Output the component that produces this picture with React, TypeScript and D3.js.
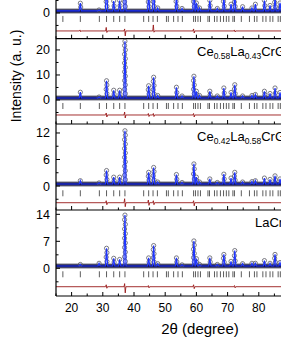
import React from 'react';
import * as d3 from 'd3';

// peak positions (2θ, deg) shared by all four patterns
const peakPos = [22.8, 28.8, 31.2, 33.5, 35.4, 37.1, 44.7, 46.3, 47.6, 53.6, 55.4, 59.2, 60.0, 61.0, 64.3, 66.7, 68.8, 71.1, 72.3, 74.8, 77.8, 78.9, 81.8, 83.6, 85.2, 86.8];

// observed peak tops (a. u.) per pattern, top to bottom
const topsCe = [3.9, 1.2, 12, 4.8, 5, 30, 8, 12, 2, 6.5, 1.8, 12, 4, 2, 5, 1.8, 6.5, 3.5, 8, 2.5, 2, 3.5, 5, 3, 6, 4];
const topsCe58 = [3.1, 1.2, 7.7, 3.9, 3.9, 23.5, 5.7, 9.1, 1.8, 5.1, 1.6, 9.5, 3.5, 1.8, 3.5, 1.6, 4.8, 3.0, 6.1, 1.6, 1.8, 2.2, 3.5, 2.6, 4.8, 3.0];
const topsCe42 = [1.2, 0.7, 3.5, 2.0, 2.0, 12.5, 3.1, 4.2, 0.9, 2.6, 0.8, 5.0, 2.0, 0.9, 1.6, 0.8, 2.7, 1.8, 3.1, 0.9, 1.0, 1.2, 1.8, 1.5, 2.3, 1.6];
const topsLa = [1.0, 1.3, 5.2, 2.6, 2.3, 13.8, 2.7, 5.9, 1.2, 2.7, 0.9, 7.1, 2.5, 1.0, 2.7, 1.0, 3.6, 1.8, 4.6, 1.2, 1.3, 1.3, 2.0, 1.3, 3.6, 1.5];

// Bragg reflection positions
const braggPos = [17.2, 22.8, 28.9, 31.2, 33.5, 35.4, 37.1, 43.1, 44.7, 46.1, 47.5, 50.4, 51.0, 52.7, 54.1, 55.5, 59.1, 59.7, 60.5, 61.3, 63.7, 64.2, 65.8, 66.6, 67.7, 68.7, 69.6, 70.4, 71.7, 72.2, 74.4, 77.0, 78.6, 79.4, 81.3, 82.3, 83.6, 84.5, 86.2, 86.9];

// difference curve spikes: [2θ, up, down]
const diffCe = [[22.8, 0.4, 0.3], [31.2, 1.4, 0.6], [37.1, 0.8, 2.0], [46.3, 2.4, 0.5], [59.2, 0.8, 0.8], [72.3, 0.4, 0.4]];
const diffCe58 = [[31.2, 0.8, 0.8], [37.1, 1.2, 1.2], [44.7, 0.6, 0.6], [46.3, 0.6, 0.6], [59.2, 0.6, 0.8]];
const diffCe42 = [[31.2, 0.45, 0.45], [37.1, 0.9, 0.9], [44.7, 0.6, 0.6], [46.3, 0.45, 0.45], [59.2, 0.45, 0.7]];
const diffLa = [[31.2, 0.5, 0.4], [37.1, 0.8, 1.6], [44.7, 0.3, 0.3], [59.2, 0.5, 0.5], [72.3, 0.3, 0.3]];

const xTicks = [15, 20, 25, 30, 35, 40, 45, 50, 55, 60, 65, 70, 75, 80, 85, 90];
const xLabels = [20, 30, 40, 50, 60, 70, 80];

interface Panel {
    tops: number[];
    bg: number;
    diff: number[][];
    braggLevel: number;
    diffLevel: number;
    domain: [number, number];
    yTicks: number[];
    yLabels: number[];
    label: { parts: [string, boolean][]; x: number } | null;
}

const panels: Panel[] = [
    { tops: topsCe, bg: 0.8, diff: diffCe, braggLevel: -2.4, diffLevel: -7.2, domain: [-10.3, 24.1],
        yTicks: [-5, 0, 5, 10, 15, 20], yLabels: [0], label: null },
    { tops: topsCe58, bg: 0.8, diff: diffCe58, braggLevel: -2.4, diffLevel: -6, domain: [-9.6, 24.5],
        yTicks: [-5, 0, 5, 10, 15, 20], yLabels: [0, 10, 20],
        label: { x: 197, parts: [['Ce', false], ['0.58', true], ['La', false], ['0.43', true], ['CrGe', false], ['3', true]] } },
    { tops: topsCe42, bg: 0.45, diff: diffCe42, braggLevel: -1.65, diffLevel: -3.78, domain: [-5.43, 14.03],
        yTicks: [-3, 0, 3, 6, 9, 12], yLabels: [0, 6, 12],
        label: { x: 197, parts: [['Ce', false], ['0.42', true], ['La', false], ['0.58', true], ['CrGe', false], ['3', true]] } },
    { tops: topsLa, bg: 0.6, diff: diffLa, braggLevel: -1.55, diffLevel: -4.77, domain: [-7.18, 15.12],
        yTicks: [-3.5, 0, 3.5, 7, 10.5, 14], yLabels: [0, 7, 14],
        label: { x: 255, parts: [['LaCrGe', false], ['3', true]] } },
];

const W = 281;
const H = 363;
const left = 56;
const bounds = [-47.3, 38.7, 124, 210, 296];
const font = 'Liberation Sans, Arial, sans-serif';

const x = d3.scaleLinear().domain([15, 90]).range([left, 290]);

const PanelView: React.FC<{ p: Panel; i: number }> = ({ p, i }) => {
    const y = d3.scaleLinear().domain(p.domain).range([bounds[i + 1], bounds[i]]);
    const line = d3.line<[number, number]>().x(d => x(d[0])).y(d => y(d[1]));

    // calculated profile
    const calc: [number, number][] = [[15, p.bg]];
    peakPos.forEach((pos, k) => {
        calc.push([pos - 0.35, p.bg], [pos, p.tops[k]], [pos + 0.35, p.bg]);
    });
    calc.push([90, p.bg]);

    // observed circles along each peak
    const obs: [number, number][] = [];
    peakPos.forEach((pos, k) => {
        const h = y(p.bg) - y(p.tops[k]);
        const n = Math.max(1, Math.round(h / 4.5));
        for (let j = 1; j <= n; j++) {
            const v = p.bg + (p.tops[k] - p.bg) * j / n;
            const side = j % 2 === 0 ? -0.12 : 0.12;
            obs.push([j === n ? pos : pos + side, v]);
        }
    });

    const diff: [number, number][] = [[15, p.diffLevel]];
    p.diff.forEach(([pos, up, dn]) => {
        diff.push([pos - 0.3, p.diffLevel], [pos - 0.1, p.diffLevel + up], [pos + 0.1, p.diffLevel - dn], [pos + 0.3, p.diffLevel]);
    });
    diff.push([90, p.diffLevel]);

    const yb = bounds[i + 1];
    return (
        <g>
            {/* background band of dense observed points */}
            <path d={line([[15, p.bg], [90, p.bg]]) || ''} stroke="#7a7a86" strokeWidth={5} fill="none" />
            <path d={line([[15, p.bg], [90, p.bg]]) || ''} stroke="#15154a" strokeWidth={3} fill="none" />
            {obs.map((d, k) => (
                <circle key={k} cx={x(d[0])} cy={y(d[1])} r={2.1} fill="none" stroke="#5a5a66" strokeWidth={0.8} />
            ))}
            <path d={line(calc) || ''} stroke="#1f35ff" strokeWidth={1.2} fill="none" />
            {braggPos.map((b, k) => (
                <line key={k} x1={x(b)} x2={x(b)} y1={y(p.braggLevel) - 3} y2={y(p.braggLevel) + 3} stroke="#333" strokeWidth={0.8} />
            ))}
            <path d={line(diff) || ''} stroke="#9a1a1a" strokeWidth={0.9} fill="none" />
            {/* bottom axis of the panel */}
            <line x1={left} x2={W} y1={yb} y2={yb} stroke="#000" strokeWidth={1.2} />
            {xTicks.map(t => (
                <line key={t} x1={x(t)} x2={x(t)} y1={yb} y2={yb - (t % 10 === 0 ? 4 : 2.5)} stroke="#000" strokeWidth={1} />
            ))}
            {p.yTicks.map(t => (
                <line key={t} x1={left} x2={left + (p.yLabels.includes(t) ? 4 : 2.5)} y1={y(t)} y2={y(t)} stroke="#000" strokeWidth={1} />
            ))}
            {p.yLabels.map(t => (
                <text key={t} x={50} y={y(t)} dy="0.36em" textAnchor="end" fontSize={12.5} fontFamily={font}>{t}</text>
            ))}
            {p.label && (
                <text x={p.label.x} y={bounds[i] + 17} fontSize={13} fontFamily={font}>
                    {p.label.parts.map(([s, sub], k) => (
                        <tspan key={k} fontSize={sub ? 8.5 : 13} dy={sub ? 3 : (k > 0 ? -3 : 0)}>{s}</tspan>
                    ))}
                </text>
            )}
        </g>
    );
};

export default function App() {
    return (
        <svg width={W} height={H} style={{ position: 'absolute', left: 0, top: 0, background: '#fff' }}>
            {panels.map((p, i) => <PanelView key={i} p={p} i={i} />)}
            <line x1={left} x2={left} y1={0} y2={bounds[4]} stroke="#000" strokeWidth={1.2} />
            {xLabels.map(t => (
                <text key={t} x={x(t)} y={312} textAnchor="middle" fontSize={12} fontFamily={font}>{t}</text>
            ))}
            <text x={200} y={334} textAnchor="middle" fontSize={15} fontFamily={font}>2θ (degree)</text>
            <text transform="translate(21,76) rotate(-90)" textAnchor="middle" fontSize={14} fontFamily={font}>Intensity (a. u.)</text>
        </svg>
    );
}
